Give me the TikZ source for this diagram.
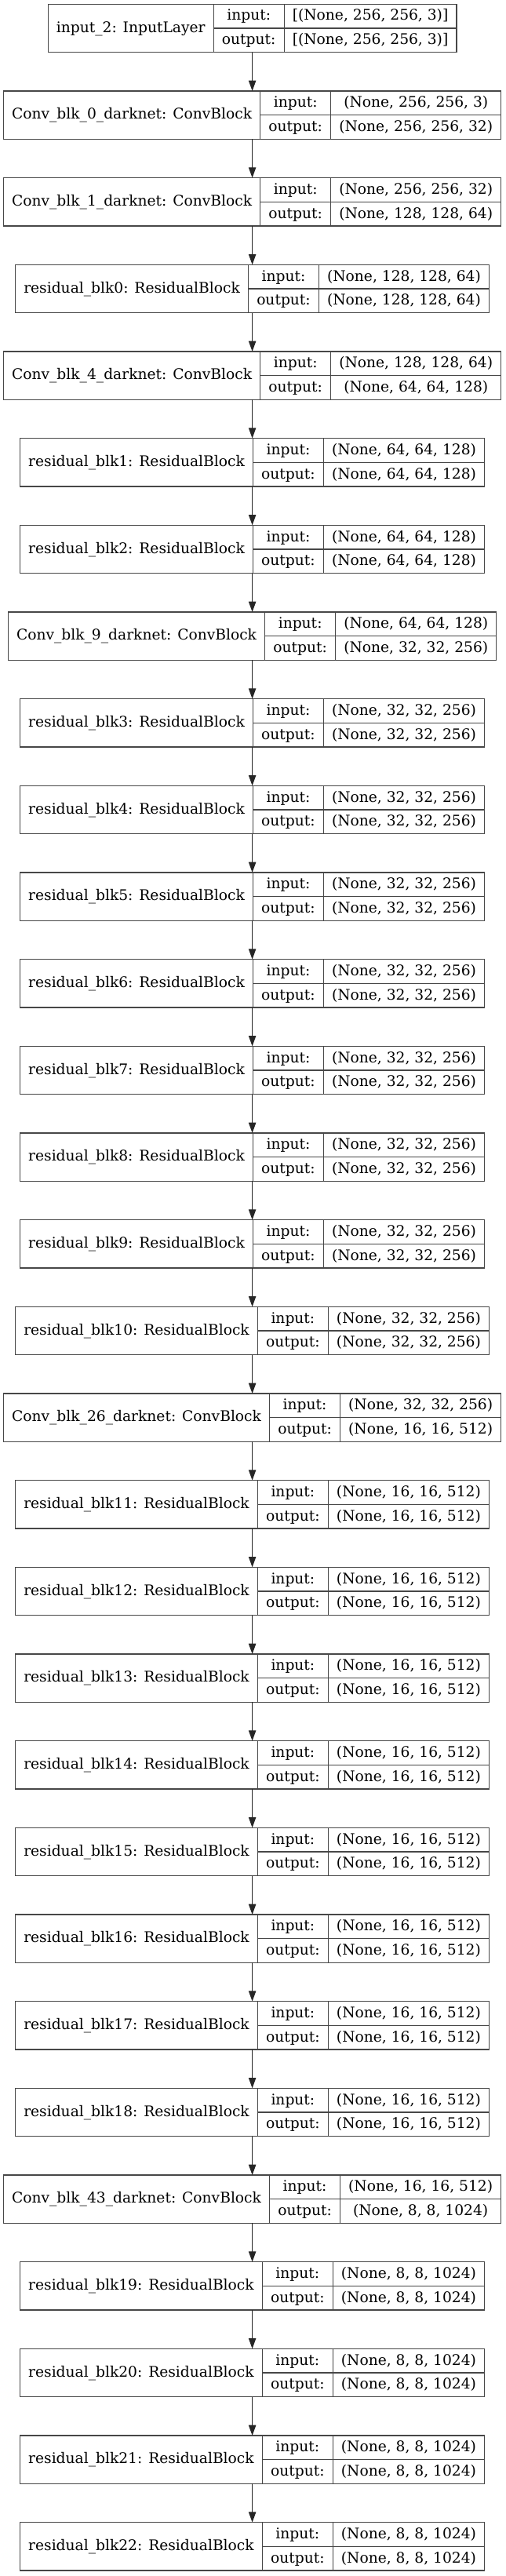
\documentclass[tikz,border=0pt]{standalone}
\usepackage{fontspec}
\setmainfont{DejaVu Serif}
\usetikzlibrary{arrows.meta}
\newcommand\gvf{\fontsize{14}{16.8}\selectfont}
\newlength\wn \newlength\wa \newlength\wb \newlength\wl
\def\cx{241.2}
\newcommand\measureblk[4]{%
  \settowidth\wn{\gvf #2}\settowidth\wa{\gvf #3}\settowidth\wb{\gvf #4}%
  \settowidth\wl{\gvf output:}%
  \ifdim\wb>\wa \wa=\wb\fi
  \pgfmathsetmacro\tmpA{\the\wn+16}\expandafter\xdef\csname cA#1\endcsname{\tmpA}%
  \pgfmathsetmacro\tmpB{\the\wl+16}\expandafter\xdef\csname cB#1\endcsname{\tmpB}%
  \pgfmathsetmacro\tmpC{\the\wa+16}\expandafter\xdef\csname cC#1\endcsname{\tmpC}%
}
\newcommand\drawblk[4]{%
  \edef\cA{\csname cA#1\endcsname}\edef\cB{\csname cB#1\endcsname}\edef\cC{\csname cC#1\endcsname}%
  \pgfmathsetmacro\W{\cA+\cB+\cC}%
  \pgfmathsetmacro\T{-(4+83*#1)-23}%
  \node[box, minimum width=\W pt] (n#1) at (\cx,\T) {};
  \draw[boxline] ([xshift=\cA pt]n#1.north west) -- ([xshift=\cA pt]n#1.south west);
  \draw[boxline] ([xshift=\cA pt]n#1.west) -- (n#1.east);
  \draw[boxline] ([xshift={\cA pt+\cB pt}]n#1.north west) -- ([xshift={\cA pt+\cB pt}]n#1.south west);
  \node[txt] (n#1name) at ([xshift={\cA pt/2}, yshift=-3.8pt]n#1.west) {#2};
  \node[txt] (n#1inl) at ([xshift={\cA pt+\cB pt/2}, yshift=-15.5pt]n#1.north west) {input:};
  \node[txt] (n#1outl) at ([xshift={\cA pt+\cB pt/2}, yshift=-38.5pt]n#1.north west) {output:};
  \node[txt] (n#1in) at ([xshift={\cA pt+\cB pt+\cC pt/2}, yshift=-15.5pt]n#1.north west) {#3};
  \node[txt] (n#1out) at ([xshift={\cA pt+\cB pt+\cC pt/2}, yshift=-38.5pt]n#1.north west) {#4};
}
\newcommand\alldata{%
\blk{0}{input\_2: InputLayer}{[(None, 256, 256, 3)]}{[(None, 256, 256, 3)]}
\blk{1}{Conv\_blk\_0\_darknet: ConvBlock}{(None, 256, 256, 3)}{(None, 256, 256, 32)}
\blk{2}{Conv\_blk\_1\_darknet: ConvBlock}{(None, 256, 256, 32)}{(None, 128, 128, 64)}
\blk{3}{residual\_blk0: ResidualBlock}{(None, 128, 128, 64)}{(None, 128, 128, 64)}
\blk{4}{Conv\_blk\_4\_darknet: ConvBlock}{(None, 128, 128, 64)}{(None, 64, 64, 128)}
\blk{5}{residual\_blk1: ResidualBlock}{(None, 64, 64, 128)}{(None, 64, 64, 128)}
\blk{6}{residual\_blk2: ResidualBlock}{(None, 64, 64, 128)}{(None, 64, 64, 128)}
\blk{7}{Conv\_blk\_9\_darknet: ConvBlock}{(None, 64, 64, 128)}{(None, 32, 32, 256)}
\blk{8}{residual\_blk3: ResidualBlock}{(None, 32, 32, 256)}{(None, 32, 32, 256)}
\blk{9}{residual\_blk4: ResidualBlock}{(None, 32, 32, 256)}{(None, 32, 32, 256)}
\blk{10}{residual\_blk5: ResidualBlock}{(None, 32, 32, 256)}{(None, 32, 32, 256)}
\blk{11}{residual\_blk6: ResidualBlock}{(None, 32, 32, 256)}{(None, 32, 32, 256)}
\blk{12}{residual\_blk7: ResidualBlock}{(None, 32, 32, 256)}{(None, 32, 32, 256)}
\blk{13}{residual\_blk8: ResidualBlock}{(None, 32, 32, 256)}{(None, 32, 32, 256)}
\blk{14}{residual\_blk9: ResidualBlock}{(None, 32, 32, 256)}{(None, 32, 32, 256)}
\blk{15}{residual\_blk10: ResidualBlock}{(None, 32, 32, 256)}{(None, 32, 32, 256)}
\blk{16}{Conv\_blk\_26\_darknet: ConvBlock}{(None, 32, 32, 256)}{(None, 16, 16, 512)}
\blk{17}{residual\_blk11: ResidualBlock}{(None, 16, 16, 512)}{(None, 16, 16, 512)}
\blk{18}{residual\_blk12: ResidualBlock}{(None, 16, 16, 512)}{(None, 16, 16, 512)}
\blk{19}{residual\_blk13: ResidualBlock}{(None, 16, 16, 512)}{(None, 16, 16, 512)}
\blk{20}{residual\_blk14: ResidualBlock}{(None, 16, 16, 512)}{(None, 16, 16, 512)}
\blk{21}{residual\_blk15: ResidualBlock}{(None, 16, 16, 512)}{(None, 16, 16, 512)}
\blk{22}{residual\_blk16: ResidualBlock}{(None, 16, 16, 512)}{(None, 16, 16, 512)}
\blk{23}{residual\_blk17: ResidualBlock}{(None, 16, 16, 512)}{(None, 16, 16, 512)}
\blk{24}{residual\_blk18: ResidualBlock}{(None, 16, 16, 512)}{(None, 16, 16, 512)}
\blk{25}{Conv\_blk\_43\_darknet: ConvBlock}{(None, 16, 16, 512)}{(None, 8, 8, 1024)}
\blk{26}{residual\_blk19: ResidualBlock}{(None, 8, 8, 1024)}{(None, 8, 8, 1024)}
\blk{27}{residual\_blk20: ResidualBlock}{(None, 8, 8, 1024)}{(None, 8, 8, 1024)}
\blk{28}{residual\_blk21: ResidualBlock}{(None, 8, 8, 1024)}{(None, 8, 8, 1024)}
\blk{29}{residual\_blk22: ResidualBlock}{(None, 8, 8, 1024)}{(None, 8, 8, 1024)}
}
\tikzset{
  box/.style={draw=black!72, line width=0.9pt, minimum height=46pt, inner sep=0pt, outer sep=0pt},
  boxline/.style={draw=black!72, line width=0.9pt},
  txt/.style={anchor=base, inner sep=0pt, font=\gvf},
  edge/.style={draw=black!85, line width=0.9pt, -{Triangle[length=10pt,width=7pt]}},
}
\begin{document}
\let\blk\measureblk\alldata
\begin{tikzpicture}[x=1pt,y=1pt]
\useasboundingbox[fill=white] (0,0) rectangle (483,-2462.25);
\let\blk\drawblk\alldata
\foreach \i [evaluate=\i as \j using int(\i+1)] in {0,...,28} {
  \draw[edge] (n\i.south) -- (n\j.north);
}
\end{tikzpicture}
\end{document}
